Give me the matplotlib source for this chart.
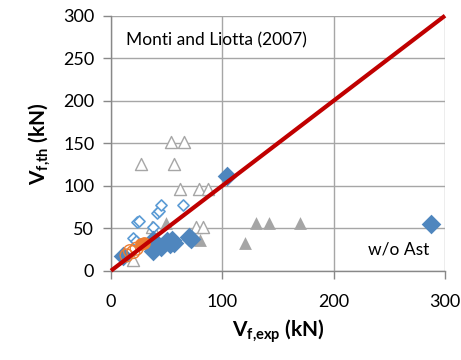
import matplotlib
matplotlib.use("Agg")
import matplotlib.pyplot as plt
import numpy as np

plt.rcParams['font.family'] = ['Lato', 'DejaVu Sans']
plt.rcParams['mathtext.fontset'] = 'custom'
plt.rcParams['mathtext.rm'] = 'Lato'
plt.rcParams['mathtext.bf'] = 'Lato:bold'
plt.rcParams['mathtext.it'] = 'Lato:italic'

# Data (kN)
filled_dia_x = [11, 38, 38, 45, 50, 53, 55, 57, 70, 72, 104, 287]
filled_dia_y = [17, 36, 23, 28, 35, 31, 36, 33, 40, 37, 112, 55]
open_dia_x = [20, 22, 23, 25, 38, 41, 43, 45, 65]
open_dia_y = [38, 35, 57, 58, 51, 68, 70, 77, 77]
open_tri_x = [54, 66, 27, 57, 62, 79, 87, 37, 76, 83, 20]
open_tri_y = [152, 152, 126, 126, 96, 96, 96, 51, 52, 52, 13]
filled_tri_x = [49, 80, 120, 130, 142, 170]
filled_tri_y = [56, 36, 33, 56, 56, 56]
orange_filled_x = [30, 27]
orange_filled_y = [33, 31]
orange_open_x = [14, 17, 23, 20]
orange_open_y = [18, 23, 26, 22]
line_x = [0, 300]
line_y = [0, 300]

fig = plt.figure(figsize=(4.61, 3.6), dpi=100)
ax = fig.add_axes([0.2408, 0.248, 0.7245, 0.7084])

grid_c = '#A6A6A6'
ax.set_xlim(0, 300)
ax.set_ylim(0, 300)
ax.set_xticks([0, 100, 200, 300])
ax.set_yticks([0, 50, 100, 150, 200, 250, 300])
ax.grid(True, color=grid_c, linewidth=1.0)
ax.set_axisbelow(True)
for s in ['top', 'right']:
    ax.spines[s].set_visible(False)
for s in ['left', 'bottom']:
    ax.spines[s].set_color('#888888')
    ax.spines[s].set_linewidth(1.0)
ax.tick_params(axis='both', length=6, width=1.0, color='#888888',
               labelsize=13, labelcolor='black')
ax.tick_params(axis='x', pad=11)
ax.tick_params(axis='y', pad=6)

ax.scatter(open_tri_x, open_tri_y, marker='^', s=75, facecolors='white',
           edgecolors='#A6A6A6', linewidths=1.0, zorder=3)
ax.scatter(filled_tri_x, filled_tri_y, marker='^', s=85, color='#A5A5A5',
           linewidths=0, zorder=3)
ax.scatter(open_dia_x, open_dia_y, marker='D', s=32, facecolors='white',
           edgecolors='#5B9BD5', linewidths=1.2, zorder=4)
ax.scatter(filled_dia_x, filled_dia_y, marker='D', s=100, color='#4F86BE',
           linewidths=0, zorder=4)
ax.scatter(orange_open_x, orange_open_y, marker='o', s=85, facecolors='none',
           edgecolors='#ED7D31', linewidths=1.0, zorder=5)
ax.scatter(orange_filled_x, orange_filled_y, marker='o', s=85, color='#ED7D31',
           linewidths=0, zorder=5)
ax.plot(line_x, line_y, color='#C00000', linewidth=3, zorder=6,
        solid_capstyle='butt', clip_on=False)

ax.text(0.045, 0.905, 'Monti and Liotta (2007)', transform=ax.transAxes,
        fontsize=12.5, ha='left', va='center')
ax.text(0.86, 0.085, 'w/o Ast', transform=ax.transAxes,
        fontsize=12.5, ha='center', va='center')

ax.set_xlabel(r'$\mathbf{V_{f{,}exp}}$ (kN)', fontsize=15, fontweight='bold', labelpad=5)
ax.set_ylabel(r'$\mathbf{V_{f{,}th}}$ (kN)', fontsize=15, fontweight='bold', labelpad=8)

fig.savefig('out.png', dpi=100)
